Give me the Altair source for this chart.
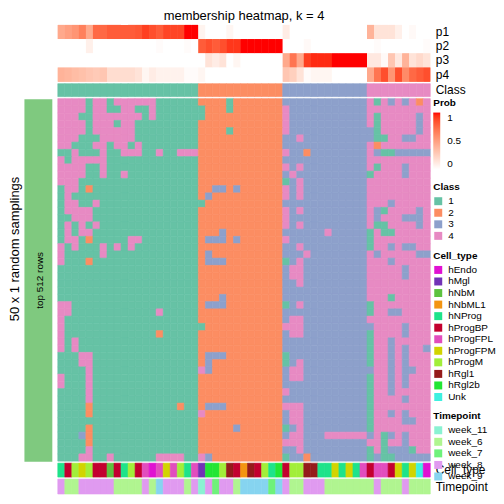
import altair as alt
import pandas as pd

FONT = "Liberation Sans"

# ---- data -------------------------------------------------------------
n_cols = 53
col_class = list("1" * 20 + "2" * 12 + "3" * 12 + "4" * 9)

p1 = [0.45, 0.5, 0.55, 0.65, 0.45, 0.75, 0.75, 0.8, 0.8, 0.8, 0.8, 0.82, 0.9, 0.85, 0.8, 0.88, 0.88, 0.88, 1.0, 1.0,
      0.06, 0, 0, 0, 0.05, 0, 0, 0, 0, 0, 0, 0,
      0.1, 0, 0, 0, 0, 0, 0, 0, 0, 0, 0, 0,
      0.4, 0.15, 0.15, 0.15, 0.08, 0.0, 0.03, 0.0, 0.0]
p2 = [0, 0, 0, 0, 0.08, 0, 0, 0, 0, 0, 0, 0, 0, 0, 0.02, 0, 0, 0, 0.02, 0,
      0.8, 0.85, 0.8, 0.85, 0.92, 0.92, 1, 1, 1, 1, 1, 1,
      0, 0, 0, 0.03, 0, 0, 0, 0, 0, 0, 0, 0,
      0, 0.02, 0, 0, 0, 0, 0, 0, 0.02]
p3 = [0, 0, 0, 0, 0, 0, 0, 0, 0, 0, 0, 0, 0, 0, 0, 0, 0, 0, 0, 0,
      0, 0.15, 0.1, 0.15, 0, 0.05, 0, 0, 0, 0, 0, 0,
      0.45, 0.7, 0.45, 0.9, 0.95, 0.95, 0.95, 1, 1, 1, 1, 1,
      0.12, 0.12, 0.03, 0.3, 0.12, 0.4, 0.15, 0.2, 0.15]
p4 = [0.4, 0.38, 0.35, 0.33, 0.3, 0.28, 0.3, 0.18, 0.18, 0.18, 0.18, 0.15, 0.05, 0.1, 0.07, 0.07, 0.07, 0.07, 0.02, 0.02,
      0.05, 0, 0, 0, 0, 0, 0, 0, 0, 0, 0, 0,
      0.3, 0.25, 0.15, 0.02, 0.05, 0.05, 0.05, 0, 0, 0, 0, 0,
      0.45, 0.7, 0.85, 0.55, 0.85, 0.6, 0.75, 0.8, 0.85]

membership = [
    "44441441444444111111" "222212222222" "333333333333" "414343424",
    "44441441144114111111" "122212222222" "433333333333" "444444444",
    "44411444444414111111" "122222222222" "433333333333" "414444434",
    "44441444144111111111" "222222222222" "433333333333" "414444434",
    "44441444444111111111" "222212222222" "433333333333" "314444434",
    "44411144444111111111" "222222222222" "334333333333" "311443344",
    "44111441441411111111" "222222222222" "333333333333" "424444444",
    "11411141144411411444" "222222222222" "433233333333" "431133333",
    "41444441111111111111" "222222222222" "333333333333" "444444444",
    "44441141111111111111" "222222222222" "434333333333" "414443444",
    "44441141141111111111" "222222222222" "343333333333" "144443444",
    "44411111111111111111" "222222222222" "134333333333" "444444444",
    "14412111111111111111" "223323222222" "434333333333" "444444444",
    "14111111111111111111" "232222222222" "434333333333" "444444444",
    "14411411111111111111" "122222222222" "333333333333" "444344444",
    "14444111111111111111" "222222222222" "434333333333" "431444434",
    "11444111111111111111" "222222222222" "433333333333" "434443334",
    "14141411111111111111" "222222222222" "434333333333" "411444434",
    "14144111111111111111" "222322222222" "333333433333" "141144444",
    "14412111114411111111" "233323222222" "433333333333" "144444444",
    "41411141414111111111" "222222222222" "334333333333" "144343344",
    "41111141111111111111" "232222222222" "333433333333" "434444433",
    "41112111111111111111" "233322222222" "134333333333" "444344444",
    "11111111111111111111" "222222222222" "344333333333" "444443444",
    "11111111111111111111" "222222222222" "344333333333" "444443444",
    "11111111111111111111" "222222222222" "334333333333" "444444444",
    "11111111111111111111" "222222222222" "333333333333" "444444444",
    "11111111111111111111" "222322222222" "333333333333" "444144444",
    "44111111111111111111" "233322222222" "134333333333" "144444444",
    "44111111111111411111" "222222222222" "333333333333" "144334444",
    "41111111111111111111" "222222222222" "344333333333" "444444444",
    "41111111111111111111" "122222222222" "444333333333" "344443444",
    "41111111111111211111" "222222222222" "344333333333" "144443444",
    "41411111111111111111" "222222222222" "333333333333" "144344444",
    "41411111111111111111" "222222222222" "333333333333" "144343443",
    "11144111111111111111" "233322222222" "133333333333" "144343444",
    "11144111111111111111" "232222222222" "134333333333" "144343444",
    "11114111111111111111" "432222222222" "344333333333" "344343344",
    "41114111111111111111" "222222222222" "344333333333" "144343444",
    "41114111111111111111" "222222222222" "333333333333" "144343444",
    "11114111111111111111" "222222222222" "433333333333" "144344444",
    "11114111111111111111" "222222222222" "333333333333" "144443444",
    "11112111111111111211" "233322222222" "444333333333" "144444444",
    "11112111111111111111" "422222222222" "344333333333" "144343444",
    "11111111111111111111" "222222222222" "344333333333" "144443344",
    "11112111111111111111" "222223222222" "134333333333" "144444444",
    "11132111111111111111" "222222222222" "344333444444" "341343444",
    "11112111111111111111" "222222222222" "444333333333" "441443444",
    "11114111111111111111" "222222222222" "334333333333" "141333144",
    "11144114111111444411" "432222222222" "133233333333" "131133333",
]

cell_type = [
    "hNProg", "hProgBP", "hProgM", "hProgFPM", "hProgM", "hProgBP", "hProgBP", "hNbM", "hProgBP", "hNProg",
    "hProgM", "hProgBP", "hProgFPL", "hEndo", "hProgFPL", "hProgFPM", "hProgFPL", "hProgM", "hNProg", "hProgFPL",
    "hMgl", "hRgl2b", "hRgl2b", "hProgM", "hRgl1", "hProgBP", "hNbML1", "hRgl1", "hProgBP", "hProgM",
    "hNProg", "hRgl2b", "hProgBP", "hProgM", "hProgM", "hRgl1", "hRgl1", "hNProg", "hNProg", "hProgFPM",
    "hNProg", "hProgFPM", "hNProg", "hProgFPL", "hProgBP", "hProgFPL", "hProgFPL", "hProgBP", "hProgFPM", "hNProg",
    "hProgFPM", "Unk", "hEndo",
]
timepoint = [
    "week_8", "week_6", "week_6", "week_8", "week_8", "week_8", "week_8", "week_8", "week_6", "week_6",
    "week_6", "week_6", "week_8", "week_6", "week_9", "week_8", "week_8", "week_8", "week_6", "week_8",
    "week_11", "week_8", "week_7", "week_8", "week_8", "week_6", "week_9", "week_9", "week_9", "week_9",
    "week_7", "week_9", "week_8", "week_6", "week_6", "week_8", "week_8", "week_8", "week_6", "week_6",
    "week_6", "week_6", "week_6", "week_6", "week_6", "week_8", "week_6", "week_6", "week_6", "week_8",
    "week_6", "week_6", "week_6",
]

class_levels = ["1", "2", "3", "4"]
class_colors = ["#66C2A5", "#FC8D62", "#8DA0CB", "#E78AC3"]
cell_levels = ["hEndo", "hMgl", "hNbM", "hNbML1", "hNProg", "hProgBP", "hProgFPL", "hProgFPM",
               "hProgM", "hRgl1", "hRgl2b", "Unk"]
cell_colors = ["#E010D2", "#7232B6", "#5EC23F", "#F39512", "#1EE38A", "#C3002F", "#E24DBE", "#D2D400",
               "#A2EE3A", "#951B1B", "#22E634", "#3EF0E0"]
time_levels = ["week_11", "week_6", "week_7", "week_8", "week_9"]
time_colors = ["#8AF2D2", "#B0F590", "#6EF27A", "#E09AF0", "#86D4F0"]

# ---- tables -----------------------------------------------------------
prob_rows = {"p1": p1, "p2": p2, "p3": p3, "p4": p4}
df_prob = pd.DataFrame([{"col": c, "row": k, "prob": v[c]}
                        for k, v in prob_rows.items() for c in range(n_cols)])
df_class = pd.DataFrame({"col": range(n_cols), "row": "Class", "cls": col_class})
df_main = pd.DataFrame([{"col": c, "row": r, "cls": s[c]}
                        for r, s in enumerate(membership) for c in range(min(len(s), n_cols))])
df_cell = pd.DataFrame({"col": range(n_cols), "row": "Cell_type", "ct": cell_type})
df_time = pd.DataFrame({"col": range(n_cols), "row": "Timepoint", "tp": timepoint})

W = 374
xenc = alt.X("col:O", axis=None, scale=alt.Scale(paddingInner=0, paddingOuter=0))
band = alt.Scale(paddingInner=0, paddingOuter=0)
SW = 0.6  # thin same-colour edge so neighbouring cells do not show seams
LX = 377


def right_axis():
    return alt.Axis(orient="right", title=None, ticks=False, domain=False, labelPadding=5,
                    labelFontSize=12, labelFont=FONT, labelColor="black")


sym_legend = dict(orient="none", legendX=LX, symbolType="square", symbolSize=64,
                  symbolStrokeWidth=0, labelFontSize=10, titleFontSize=10, titleFontWeight="bold",
                  rowPadding=1.6, titlePadding=4, labelOffset=5, labelFont=FONT, titleFont=FONT,
                  labelColor="black", titleColor="black")

prob_scale = alt.Scale(domain=[0, 1], range=["#FFFFFF", "#FF0000"], interpolate="lab")
class_scale = alt.Scale(domain=class_levels, range=class_colors)
cell_scale = alt.Scale(domain=cell_levels, range=cell_colors)
time_scale = alt.Scale(domain=time_levels, range=time_colors)

prob_base = alt.Chart(df_prob).mark_rect().encode(
    x=xenc,
    y=alt.Y("row:N", sort=list(prob_rows.keys()), scale=band, axis=right_axis()),
    color=alt.Color("prob:Q", scale=prob_scale,
                    legend=alt.Legend(type="gradient", title="Prob", orient="none", legendX=LX, legendY=73,
                                      direction="vertical", gradientLength=57, gradientThickness=7,
                                      gradientStrokeWidth=0, values=[0, 0.5, 1], format="~g",
                                      labelBaseline="middle", labelOverlap=False,
                                      labelFontSize=10, titleFontSize=10, titleFontWeight="bold",
                                      titlePadding=5, labelOffset=7, labelFont=FONT, titleFont=FONT,
                                      labelColor="black", titleColor="black")),
)
# drawn twice so that the anti-aliased seams between neighbouring cells disappear
top = alt.layer(prob_base, prob_base).properties(
    width=W, height=57,
    title=alt.Title("membership heatmap, k = 4", fontSize=13, fontWeight="normal",
                    font=FONT, anchor="middle", offset=2, color="black"))

class_row = alt.Chart(df_class).mark_rect(strokeWidth=SW).encode(
    x=xenc,
    y=alt.Y("row:N", scale=band, axis=right_axis()),
    color=alt.Color("cls:N", scale=class_scale,
                    legend=alt.Legend(title="Class", legendY=99, **sym_legend)),
    stroke=alt.Stroke("cls:N", scale=class_scale, legend=None),
).properties(width=W, height=13)

main = alt.Chart(df_main).mark_rect(strokeWidth=SW).encode(
    x=xenc,
    y=alt.Y("row:O", scale=band,
            axis=alt.Axis(orient="left", title="top 512 rows", labels=False, ticks=False, domain=True,
                          domainColor="#7FC97F", domainWidth=28, offset=20, titleX=2, titleY=182,
                          titleAngle=270, titleAlign="center", titleBaseline="middle",
                          titleFontSize=10, titleFontWeight="normal", titleFont=FONT, titleColor="black")),
    color=alt.Color("cls:N", scale=class_scale, legend=None),
    stroke=alt.Stroke("cls:N", scale=class_scale, legend=None),
).properties(width=W, height=364,
             title=alt.Title("50 x 1 random samplings", orient="left", anchor="middle", fontSize=13,
                             fontWeight="normal", font=FONT, offset=13, dx=31, color="black"))

cell_row = alt.Chart(df_cell).mark_rect(strokeWidth=SW).encode(
    x=xenc,
    y=alt.Y("row:N", scale=band, axis=right_axis()),
    color=alt.Color("ct:N", scale=cell_scale,
                    legend=alt.Legend(title="Cell_type", legendY=-213, **sym_legend)),
    stroke=alt.Stroke("ct:N", scale=cell_scale, legend=None),
).properties(width=W, height=14)

time_row = alt.Chart(df_time).mark_rect(strokeWidth=SW).encode(
    x=xenc,
    y=alt.Y("row:N", scale=band, axis=right_axis()),
    color=alt.Color("tp:N", scale=time_scale,
                    legend=alt.Legend(title="Timepoint", legendY=-68, **sym_legend)),
    stroke=alt.Stroke("tp:N", scale=time_scale, legend=None),
).properties(width=W, height=15)

chart = alt.vconcat(top, class_row, main, cell_row, time_row, spacing=2, bounds="flush",
                    padding={"left": 0, "top": 1, "right": 0, "bottom": 0}
                    ).resolve_scale(color="independent", stroke="independent").configure_view(stroke=None)

chart.save("out.html", embed_options={"renderer": "svg", "actions": False})
